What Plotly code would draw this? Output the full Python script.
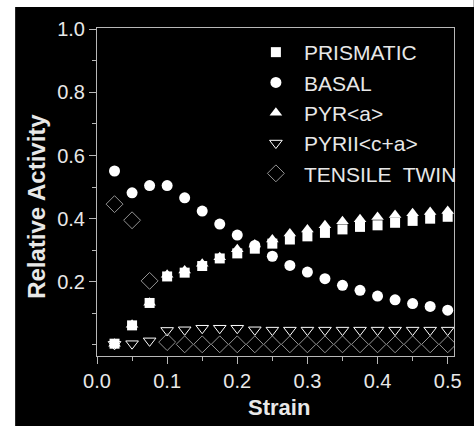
import plotly.graph_objects as go

strain = [0.025, 0.05, 0.075, 0.1, 0.125, 0.15, 0.175, 0.2, 0.225, 0.25,
          0.275, 0.3, 0.325, 0.35, 0.375, 0.4, 0.425, 0.45, 0.475, 0.5]
prismatic = [0.004, 0.062, 0.133, 0.217, 0.229, 0.250, 0.274, 0.290, 0.305, 0.321,
             0.334, 0.344, 0.355, 0.366, 0.374, 0.379, 0.387, 0.393, 0.400, 0.406]
basal = [0.551, 0.482, 0.505, 0.505, 0.466, 0.424, 0.383, 0.348, 0.315, 0.281,
         0.252, 0.231, 0.210, 0.189, 0.173, 0.155, 0.143, 0.131, 0.122, 0.110]
pyr_a = [0.004, 0.064, 0.134, 0.222, 0.236, 0.257, 0.278, 0.303, 0.318, 0.334,
         0.353, 0.366, 0.379, 0.392, 0.398, 0.405, 0.412, 0.417, 0.421, 0.424]
pyr2_ca = [0.002, 0.004, 0.013, 0.046, 0.048, 0.053, 0.053, 0.053, 0.048, 0.047,
           0.047, 0.047, 0.047, 0.047, 0.047, 0.047, 0.047, 0.047, 0.047, 0.047]
twin = [0.446, 0.395, 0.203, 0.009, 0.002, 0.002, 0.002, 0.002, 0.002, 0.002,
        0.002, 0.002, 0.002, 0.002, 0.002, 0.002, 0.002, 0.002, 0.002, 0.002]

names = ["PRISMATIC", "BASAL", "PYR&lt;a&gt;", "PYRII&lt;c+a&gt;", "TENSILE  TWIN"]

FONT = "Liberation Sans, Arial, sans-serif"
W, H = 474, 426
ML, MR, MT, MB = 97, 15, 28, 70
PW, PH = W - ML - MR, H - MT - MB


def px_x(px):
    return (px - ML) / PW


def px_y(py):
    return (H - MB - py) / PH


fig = go.Figure()
fig.add_trace(go.Scatter(x=strain, y=prismatic, mode="markers", name=names[0],
                         marker=dict(symbol="square", size=10, color="white",
                                     line=dict(width=0))))
fig.add_trace(go.Scatter(x=strain, y=basal, mode="markers", name=names[1],
                         marker=dict(symbol="circle", size=11, color="white",
                                     line=dict(width=0))))
fig.add_trace(go.Scatter(x=strain, y=pyr_a, mode="markers", name=names[2],
                         marker=dict(symbol="triangle-up", size=11, color="white",
                                     line=dict(width=0))))
fig.add_trace(go.Scatter(x=strain, y=pyr2_ca, mode="markers", name=names[3],
                         marker=dict(symbol="triangle-down-open", size=11,
                                     color="white", line=dict(width=1))))
fig.add_trace(go.Scatter(x=strain, y=twin, mode="markers", name=names[4],
                         marker=dict(symbol="diamond-open", size=13,
                                     color="#949494", line=dict(width=1))))

axis_common = dict(showgrid=False, zeroline=False, showline=True,
                   linecolor="#b8b8b8", linewidth=1, mirror=True,
                   ticks="outside", tickcolor="#b8b8b8", ticklen=7,
                   tickfont=dict(family=FONT, size=20, color="#e8e8e8"))

fig.update_xaxes(range=[0, 0.509], tickvals=[0, 0.1, 0.2, 0.3, 0.4, 0.5],
                 ticktext=["0.0", "0.1", "0.2", "0.3", "0.4", "0.5"],
                 minor=dict(tickvals=[0.05, 0.15, 0.25, 0.35, 0.45], ticklen=4,
                            tickcolor="#b8b8b8", ticks="outside"),
                 **axis_common)
fig.update_yaxes(range=[-0.035, 1.004], tickvals=[0.2, 0.4, 0.6, 0.8, 1.0],
                 ticktext=["0.2", "0.4", "0.6", "0.8", "1.0"],
                 minor=dict(tickvals=[0.0, 0.1, 0.3, 0.5, 0.7, 0.9], ticklen=4,
                            tickcolor="#b8b8b8", ticks="outside"),
                 **axis_common)

# white strips at the left and top edges of the picture
fig.add_shape(type="rect", xref="paper", yref="paper",
              x0=px_x(-5), x1=px_x(14), y0=px_y(H + 5), y1=px_y(-5),
              fillcolor="white", line=dict(width=0), layer="below")
fig.add_shape(type="rect", xref="paper", yref="paper",
              x0=px_x(-5), x1=px_x(W + 5), y0=px_y(7), y1=px_y(-5),
              fillcolor="white", line=dict(width=0), layer="below")

fig.add_annotation(text="<b>Relative Activity</b>", xref="paper", yref="paper",
                   x=px_x(35), y=px_y(206), showarrow=False, textangle=-90,
                   xanchor="center", yanchor="middle",
                   font=dict(family=FONT, size=24, color="#e8e8e8"))
fig.add_annotation(text="<b>Strain</b>", xref="paper", yref="paper",
                   x=px_x(282), y=px_y(407), showarrow=False,
                   xanchor="center", yanchor="middle",
                   font=dict(family=FONT, size=22, color="#e8e8e8"))

fig.update_layout(
    width=W, height=H,
    margin=dict(l=ML, r=MR, t=MT, b=MB, pad=0),
    paper_bgcolor="black", plot_bgcolor="black",
    showlegend=True,
    legend=dict(x=px_x(250), y=px_y(32), xanchor="left", yanchor="top",
                bgcolor="rgba(0,0,0,0)", itemwidth=46,
                font=dict(family=FONT, size=21, color="#e8e8e8")),
)

post = ("document.body.style.margin='0';"
        "document.body.style.overflow='hidden';"
        "document.documentElement.style.overflow='hidden';")
fig.write_html("out.html", post_script=post,
               config={"displayModeBar": False})
